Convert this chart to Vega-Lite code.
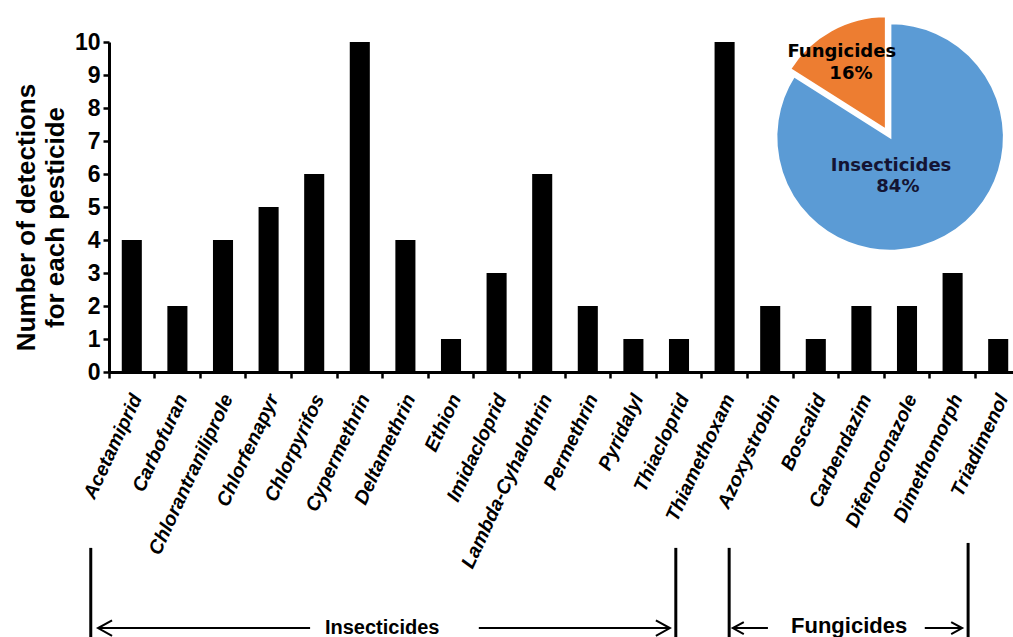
{
  "$schema": "https://vega.github.io/schema/vega-lite/v6.json",
  "width": 904,
  "height": 330,
  "autosize": {"type": "none"},
  "padding": {"left": 109, "top": 42, "right": 0, "bottom": 265},
  "background": "white",
  "config": {"view": {"stroke": null}, "font": "Liberation Sans"},
  "resolve": {"axis": {"y": "independent"}},
  "datasets": {
    "pesticides": [
      {"pesticide": "Acetamiprid", "detections": 4},
      {"pesticide": "Carbofuran", "detections": 2},
      {"pesticide": "Chlorantraniliprole", "detections": 4},
      {"pesticide": "Chlorfenapyr", "detections": 5},
      {"pesticide": "Chlorpyrifos", "detections": 6},
      {"pesticide": "Cypermethrin", "detections": 10},
      {"pesticide": "Deltamethrin", "detections": 4},
      {"pesticide": "Ethion", "detections": 1},
      {"pesticide": "Imidacloprid", "detections": 3},
      {"pesticide": "Lambda-Cyhalothrin", "detections": 6},
      {"pesticide": "Permethrin", "detections": 2},
      {"pesticide": "Pyridalyl", "detections": 1},
      {"pesticide": "Thiacloprid", "detections": 1},
      {"pesticide": "Thiamethoxam", "detections": 10},
      {"pesticide": "Azoxystrobin", "detections": 2},
      {"pesticide": "Boscalid", "detections": 1},
      {"pesticide": "Carbendazim", "detections": 2},
      {"pesticide": "Difenoconazole", "detections": 2},
      {"pesticide": "Dimethomorph", "detections": 3},
      {"pesticide": "Triadimenol", "detections": 1}
    ],
    "pie": [
      {"group": "Insecticides", "share": 84, "pct": "84%"},
      {"group": "Fungicides", "share": 16, "pct": "16%"}
    ],
    "one": [{"k": 1}]
  },
  "layer": [
    {
      "data": {"name": "pesticides"},
      "mark": {"type": "bar", "color": "black", "width": {"band": 0.44}},
      "encoding": {
        "x": {
          "field": "pesticide", "type": "nominal", "sort": null,
          "scale": {
            "domain": ["Acetamiprid", "Carbofuran", "Chlorantraniliprole", "Chlorfenapyr", "Chlorpyrifos", "Cypermethrin", "Deltamethrin", "Ethion", "Imidacloprid", "Lambda-Cyhalothrin", "Permethrin", "Pyridalyl", "Thiacloprid", "Thiamethoxam", "Azoxystrobin", "Boscalid", "Carbendazim", "Difenoconazole", "Dimethomorph", "Triadimenol"],
            "range": [0, 912], "paddingInner": 0, "paddingOuter": 0
          },
          "axis": {
            "title": null, "bandPosition": 0, "labelOffset": 5, "labelAngle": -65,
            "labelFont": "Liberation Sans", "labelFontSize": 19.5, "labelFontWeight": "bold", "labelFontStyle": "italic",
            "labelColor": "black", "labelPadding": 17, "tickSize": 6, "tickWidth": 2.5, "tickColor": "black",
            "domainColor": "black", "domainWidth": 3, "labelOverlap": false, "labelBound": false, "labelLimit": 0
          }
        },
        "y": {
          "field": "detections", "type": "quantitative",
          "scale": {"domain": [0, 10], "nice": false},
          "axis": {
            "title": ["Number of detections", "for each pesticide"],
            "values": [0, 1, 2, 3, 4, 5, 6, 7, 8, 9, 10], "labelOverlap": false, "grid": false,
            "labelFontSize": 23, "labelFontWeight": "bold", "labelColor": "black", "labelPadding": 3,
            "tickSize": 6, "tickWidth": 2.5, "tickColor": "black", "domainWidth": 3, "domainColor": "black",
            "titleFontSize": 26, "titleFontWeight": "bold", "titleColor": "black", "titleLineHeight": 29, "titlePadding": 6, "titleY": 175
          }
        }
      }
    },
    {
      "data": {"name": "pie"},
      "mark": {"type": "arc", "outerRadius": 114, "stroke": "white", "strokeWidth": 2.5, "color": "#5B9BD5"},
      "encoding": {
        "theta": {"field": "share", "type": "quantitative", "stack": true},
        "order": {"field": "share", "sort": "descending"},
        "detail": {"field": "group"},
        "x": {"datum": "Difenoconazole", "bandPosition": 0.13},
        "y": {"datum": 7.12, "type": "quantitative", "axis": null},
        "opacity": {"condition": {"test": "datum.group === 'Insecticides'", "value": 1}, "value": 0}
      }
    },
    {
      "data": {"name": "pie"},
      "mark": {"type": "arc", "outerRadius": 114, "stroke": "white", "strokeWidth": 2.5, "color": "#ED7D31"},
      "encoding": {
        "theta": {"field": "share", "type": "quantitative", "stack": true},
        "order": {"field": "share", "sort": "descending"},
        "detail": {"field": "group"},
        "x": {"datum": "Difenoconazole", "bandPosition": 0.042},
        "y": {"datum": 7.33, "type": "quantitative", "axis": null},
        "opacity": {"condition": {"test": "datum.group === 'Fungicides'", "value": 1}, "value": 0}
      }
    },
    {
      "data": {"name": "pie"},
      "transform": [{"filter": "datum.group === 'Fungicides'"}],
      "mark": {"type": "text", "font": "DejaVu Sans", "fontWeight": "bold", "fontSize": 18, "color": "black"},
      "encoding": {"text": {"field": "group"}, "x": {"datum": "Carbendazim", "bandPosition": 0.07}, "y": {"datum": 9.7, "type": "quantitative", "axis": null}}
    },
    {
      "data": {"name": "pie"},
      "transform": [{"filter": "datum.group === 'Fungicides'"}],
      "mark": {"type": "text", "font": "DejaVu Sans", "fontWeight": "bold", "fontSize": 18, "color": "black"},
      "encoding": {"text": {"field": "pct"}, "x": {"datum": "Carbendazim", "bandPosition": 0.27}, "y": {"datum": 9.03, "type": "quantitative", "axis": null}}
    },
    {
      "data": {"name": "pie"},
      "transform": [{"filter": "datum.group === 'Insecticides'"}],
      "mark": {"type": "text", "font": "DejaVu Sans", "fontWeight": "bold", "fontSize": 18, "color": "#141433"},
      "encoding": {"text": {"field": "group"}, "x": {"datum": "Difenoconazole", "bandPosition": 0.15}, "y": {"datum": 6.25, "type": "quantitative", "axis": null}}
    },
    {
      "data": {"name": "pie"},
      "transform": [{"filter": "datum.group === 'Insecticides'"}],
      "mark": {"type": "text", "font": "DejaVu Sans", "fontWeight": "bold", "fontSize": 18, "color": "#141433"},
      "encoding": {"text": {"field": "pct"}, "x": {"datum": "Difenoconazole", "bandPosition": 0.3}, "y": {"datum": 5.62, "type": "quantitative", "axis": null}}
    },
    {
      "data": {"name": "one"},
      "mark": {"type": "rule", "strokeWidth": 3, "color": "black"},
      "encoding": {"x": {"datum": "Acetamiprid", "bandPosition": -0.4}, "y": {"datum": -5.33, "type": "quantitative", "axis": null}, "y2": {"datum": -8.4}}
    },
    {
      "data": {"name": "one"},
      "mark": {"type": "rule", "strokeWidth": 3, "color": "black"},
      "encoding": {"x": {"datum": "Thiacloprid", "bandPosition": 0.43}, "y": {"datum": -5.33, "type": "quantitative", "axis": null}, "y2": {"datum": -8.4}}
    },
    {
      "data": {"name": "one"},
      "mark": {"type": "rule", "strokeWidth": 3, "color": "black"},
      "encoding": {"x": {"datum": "Thiamethoxam", "bandPosition": 0.6}, "y": {"datum": -5.33, "type": "quantitative", "axis": null}, "y2": {"datum": -8.4}}
    },
    {
      "data": {"name": "one"},
      "mark": {"type": "rule", "strokeWidth": 3, "color": "black"},
      "encoding": {"x": {"datum": "Dimethomorph", "bandPosition": 0.84}, "y": {"datum": -5.18, "type": "quantitative", "axis": null}, "y2": {"datum": -8.4}}
    },
    {
      "data": {"name": "one"},
      "mark": {"type": "rule", "strokeWidth": 2, "color": "black"},
      "encoding": {"x": {"datum": "Acetamiprid", "bandPosition": -0.24}, "x2": {"datum": "Chlorpyrifos", "bandPosition": 0.41}, "y": {"datum": -7.76, "type": "quantitative", "axis": null}}
    },
    {
      "data": {"name": "one"},
      "mark": {"type": "rule", "strokeWidth": 2, "color": "black"},
      "encoding": {"x": {"datum": "Imidacloprid", "bandPosition": 0.11}, "x2": {"datum": "Thiacloprid", "bandPosition": 0.3}, "y": {"datum": -7.76, "type": "quantitative", "axis": null}}
    },
    {
      "data": {"name": "one"},
      "mark": {"type": "rule", "strokeWidth": 2, "color": "black"},
      "encoding": {"x": {"datum": "Thiamethoxam", "bandPosition": 0.68}, "x2": {"datum": "Azoxystrobin", "bandPosition": 0.45}, "y": {"datum": -7.76, "type": "quantitative", "axis": null}}
    },
    {
      "data": {"name": "one"},
      "mark": {"type": "rule", "strokeWidth": 2, "color": "black"},
      "encoding": {"x": {"datum": "Difenoconazole", "bandPosition": 0.89}, "x2": {"datum": "Dimethomorph", "bandPosition": 0.71}, "y": {"datum": -7.76, "type": "quantitative", "axis": null}}
    },
    {
      "data": {"name": "one"},
      "mark": {"type": "point", "shape": "M 1 -0.55 L 0 0 L 1 0.55", "size": 784, "filled": false, "stroke": "black", "strokeWidth": 2, "opacity": 1},
      "encoding": {"x": {"datum": "Acetamiprid", "bandPosition": -0.24}, "y": {"datum": -7.76, "type": "quantitative", "axis": null}}
    },
    {
      "data": {"name": "one"},
      "mark": {"type": "point", "shape": "M -1 -0.55 L 0 0 L -1 0.55", "size": 784, "filled": false, "stroke": "black", "strokeWidth": 2, "opacity": 1},
      "encoding": {"x": {"datum": "Thiacloprid", "bandPosition": 0.3}, "y": {"datum": -7.76, "type": "quantitative", "axis": null}}
    },
    {
      "data": {"name": "one"},
      "mark": {"type": "point", "shape": "M 1 -0.55 L 0 0 L 1 0.55", "size": 484, "filled": false, "stroke": "black", "strokeWidth": 2, "opacity": 1},
      "encoding": {"x": {"datum": "Thiamethoxam", "bandPosition": 0.68}, "y": {"datum": -7.76, "type": "quantitative", "axis": null}}
    },
    {
      "data": {"name": "one"},
      "mark": {"type": "point", "shape": "M -1 -0.55 L 0 0 L -1 0.55", "size": 484, "filled": false, "stroke": "black", "strokeWidth": 2, "opacity": 1},
      "encoding": {"x": {"datum": "Dimethomorph", "bandPosition": 0.71}, "y": {"datum": -7.76, "type": "quantitative", "axis": null}}
    },
    {
      "data": {"name": "one"},
      "mark": {"type": "text", "text": "Insecticides", "fontSize": 20, "fontWeight": "bold", "color": "black", "baseline": "alphabetic"},
      "encoding": {"x": {"datum": "Cypermethrin", "bandPosition": 0.99}, "y": {"datum": -7.94, "type": "quantitative", "axis": null}}
    },
    {
      "data": {"name": "one"},
      "mark": {"type": "text", "text": "Fungicides", "fontSize": 22, "fontWeight": "bold", "color": "black", "baseline": "alphabetic"},
      "encoding": {"x": {"datum": "Carbendazim", "bandPosition": 0.23}, "y": {"datum": -7.92, "type": "quantitative", "axis": null}}
    }
  ]
}
